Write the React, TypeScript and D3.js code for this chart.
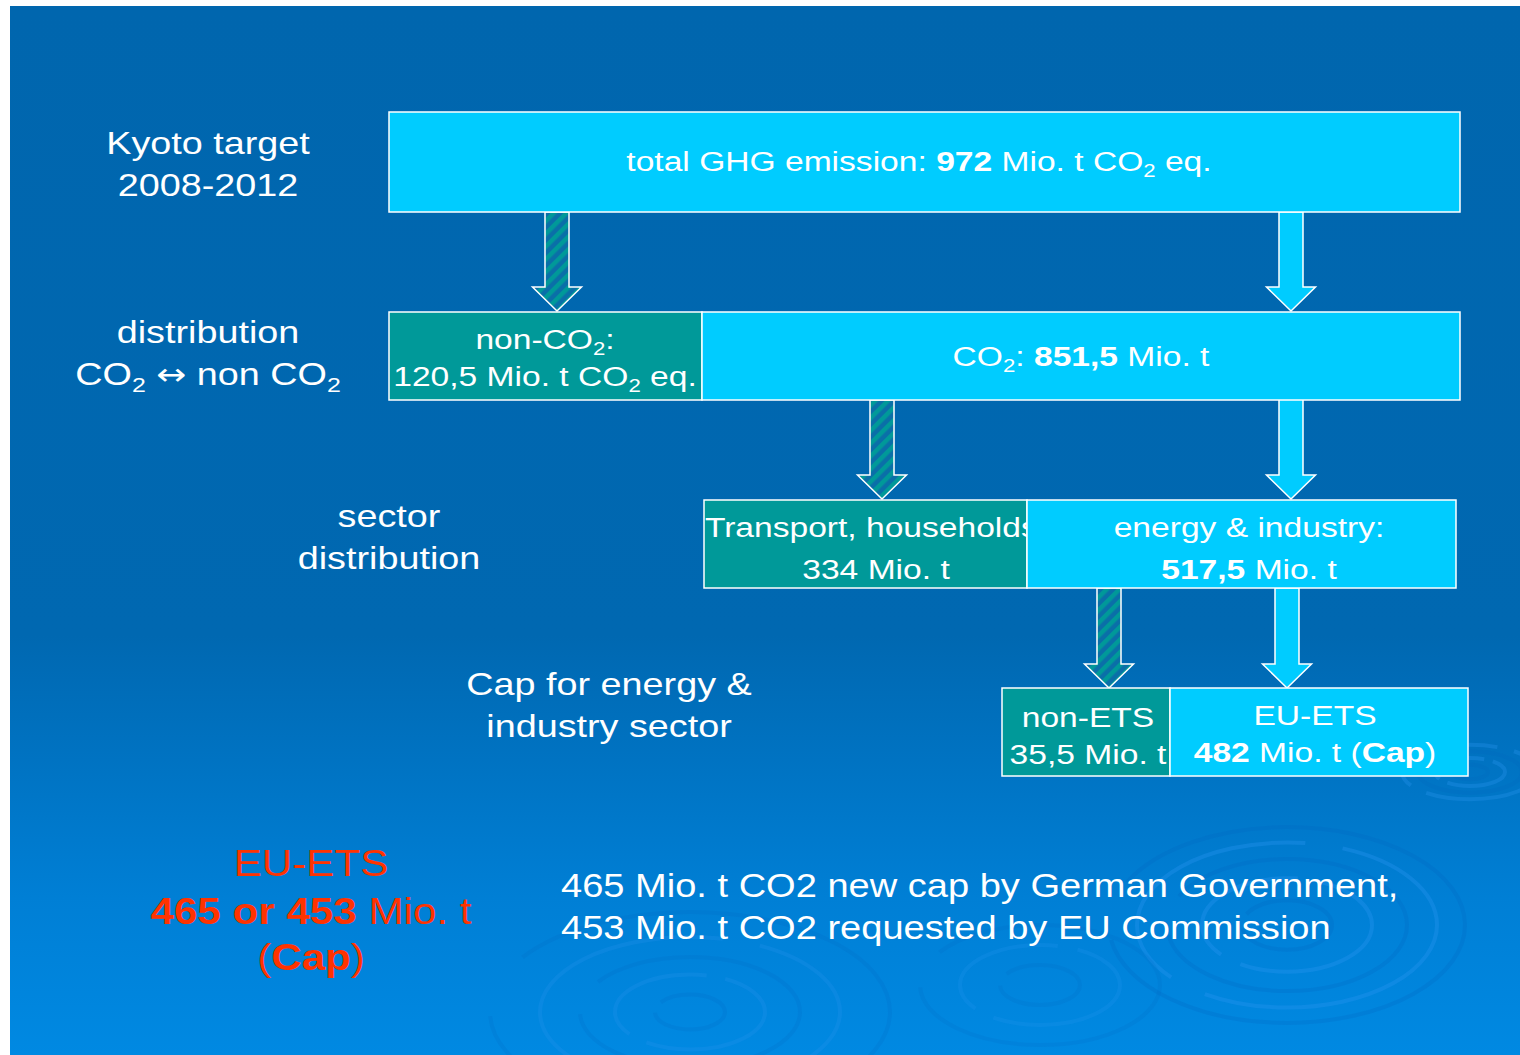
import React, { useEffect, useRef } from 'react';
import * as d3 from 'd3';

type Seg = { t: string; b?: boolean; sub?: boolean; sym?: boolean };

// values (Mio. t CO2 eq.)
const totalGhg = 972;
const splitValues = [120.5, 851.5];
const sectorValues = [334, 517.5];
const capValues = [35.5, 482];
const newCaps = [465, 453];

const tierLabels: Seg[][][] = [
	[[{ t: 'Kyoto target' }], [{ t: '2008-2012' }]],
	[[{ t: 'distribution' }], [{ t: 'CO' }, { t: '2', sub: true }, { t: ' ' }, { t: '↔', sym: true }, { t: ' non CO' }, { t: '2', sub: true }]],
	[[{ t: 'sector' }], [{ t: 'distribution' }]],
	[[{ t: 'Cap for energy &' }], [{ t: 'industry sector' }]],
];

const fmt = d3.formatLocale({ decimal: ',', thousands: '.', grouping: [3], currency: ['', ''] }).format('~f');

const WIDTH = 1520;
const HEIGHT = 1055;
const FONT = '"Liberation Sans", Arial, Helvetica, sans-serif';
const CYAN = '#00ccff';
const TEAL = '#009999';

const App: React.FC = () => {
	const svgRef = useRef<SVGSVGElement>(null);

	useEffect(() => {
		if (!svgRef.current) return;
		const svg = d3.select(svgRef.current);
		svg.selectAll('*').remove();

		const defs = svg.append('defs');
		const grad = defs.append('linearGradient').attr('id', 'bg').attr('x1', 0).attr('y1', 0).attr('x2', 0).attr('y2', 1);
		[[0, '#0066ae'], [0.6, '#0068b1'], [0.85, '#007fd5'], [1, '#0089e2']].forEach(([o, c]) =>
			grad.append('stop').attr('offset', o as number).attr('stop-color', c as string));

		const pat = defs.append('pattern').attr('id', 'hatch').attr('patternUnits', 'userSpaceOnUse')
			.attr('width', 9).attr('height', 9).attr('patternTransform', 'rotate(45)');
		pat.append('rect').attr('width', 9).attr('height', 9).attr('fill', '#0a6fa8');
		pat.append('rect').attr('width', 4.5).attr('height', 9).attr('fill', TEAL);

		// slide background
		svg.append('rect').attr('width', WIDTH).attr('height', HEIGHT).attr('fill', '#fff');
		svg.append('rect').attr('x', 10).attr('y', 6).attr('width', WIDTH - 10).attr('height', HEIGHT - 6).attr('fill', 'url(#bg)');

		// water ripples
		const ripples = [
			{ cx: 1287, cy: 925, r: [45, 85, 120, 150, 178], k: 0.55, a: 1 },
			{ cx: 690, cy: 1012, r: [35, 75, 110, 150, 200], k: 0.5, a: 0.7 },
			{ cx: 1470, cy: 772, r: [18, 35, 52, 68], k: 0.4, a: 0.9 },
			{ cx: 1040, cy: 985, r: [40, 80, 120], k: 0.5, a: 0.6 },
		];
		const rg = svg.append('g').attr('fill', 'none');
		ripples.forEach(rp => {
			rp.r.forEach((r, i) => {
				rg.append('ellipse').attr('cx', rp.cx).attr('cy', rp.cy).attr('rx', r).attr('ry', r * rp.k)
					.attr('stroke', i % 2 ? `rgba(40,150,240,${0.35 * rp.a})` : `rgba(0,100,190,${0.22 * rp.a})`)
					.attr('stroke-width', 4)
					.attr('stroke-dasharray', i % 2 ? `${r * 1.8} ${r * 0.25}` : `${r * 2.4} ${r * 0.35}`);
			});
		});

		// text written a bit wider than the font, like the original slide
		const writeLines = (g: d3.Selection<SVGGElement, unknown, null, undefined>, x: number, baselines: number[], lines: Seg[][], size: number, color: string, anchor = 'middle', stretch = 1.19) => {
			lines.forEach((line, i) => {
				const txt = g.append('text').attr('x', 0).attr('y', 0)
					.attr('transform', `translate(${x},${baselines[i]}) scale(${stretch},1)`)
					.attr('text-anchor', anchor).attr('fill', color)
					.attr('font-family', FONT).attr('font-size', size);
				line.forEach((s, j) => {
					const ts = txt.append('tspan').text(s.t);
					if (s.b) ts.attr('font-weight', 'bold');
					if (s.sym) ts.attr('font-family', '"DejaVu Sans", sans-serif').attr('font-size', size * 0.95);
					if (s.sub) ts.attr('font-size', size * 0.66).attr('dy', size * 0.22);
					else if (j > 0 && line[j - 1].sub) ts.attr('dy', -size * 0.22);
				});
			});
		};

		// arrows
		const arrows = [
			{ x: 557, y0: 212, y1: 311, hatch: true },
			{ x: 1291, y0: 212, y1: 311, hatch: false },
			{ x: 882, y0: 400, y1: 499, hatch: true },
			{ x: 1291, y0: 398, y1: 499, hatch: false },
			{ x: 1109, y0: 588, y1: 688, hatch: true },
			{ x: 1287, y0: 588, y1: 688, hatch: false },
		];
		const sw = 12, hw = 24.5, hl = 24;
		svg.append('g').selectAll('path').data(arrows).join('path')
			.attr('d', a => {
				const p = d3.path();
				p.moveTo(a.x - sw, a.y0);
				p.lineTo(a.x + sw, a.y0);
				p.lineTo(a.x + sw, a.y1 - hl);
				p.lineTo(a.x + hw, a.y1 - hl);
				p.lineTo(a.x, a.y1);
				p.lineTo(a.x - hw, a.y1 - hl);
				p.lineTo(a.x - sw, a.y1 - hl);
				p.closePath();
				return p.toString();
			})
			.attr('fill', a => (a.hatch ? 'url(#hatch)' : CYAN))
			.attr('stroke', '#fff').attr('stroke-width', 1.5).attr('stroke-linejoin', 'miter');

		// boxes: rows of [x0, x1] with text
		const boxRows = [
			{ y: 112, h: 100, cells: [
				{ x0: 389, x1: 1460, fill: CYAN, tx: 919, base: [171], lines: [[{ t: 'total GHG emission: ' }, { t: String(totalGhg), b: true }, { t: ' Mio. t CO' }, { t: '2', sub: true }, { t: ' eq.' }]] },
			] },
			{ y: 312, h: 88, cells: [
				{ x0: 389, x1: 702, fill: TEAL, tx: 545, base: [349, 386], lines: [[{ t: 'non-CO' }, { t: '2', sub: true }, { t: ':' }], [{ t: `${fmt(splitValues[0])} Mio. t CO` }, { t: '2', sub: true }, { t: ' eq.' }]] },
				{ x0: 702, x1: 1460, fill: CYAN, tx: 1081, base: [366], lines: [[{ t: 'CO' }, { t: '2', sub: true }, { t: ': ' }, { t: fmt(splitValues[1]), b: true }, { t: ' Mio. t' }]] },
			] },
			{ y: 500, h: 88, cells: [
				{ x0: 704, x1: 1027, fill: TEAL, tx: 876, base: [537, 579], lines: [[{ t: 'Transport, households:' }], [{ t: `${fmt(sectorValues[0])} Mio. t` }]] },
				{ x0: 1027, x1: 1456, fill: CYAN, tx: 1249, base: [537, 579], lines: [[{ t: 'energy & industry:' }], [{ t: fmt(sectorValues[1]), b: true }, { t: ' Mio. t' }]] },
			] },
			{ y: 688, h: 88, cells: [
				{ x0: 1002, x1: 1170, fill: TEAL, tx: 1088, base: [727, 764], lines: [[{ t: 'non-ETS' }], [{ t: `${fmt(capValues[0])} Mio. t` }]] },
				{ x0: 1170, x1: 1468, fill: CYAN, tx: 1315, base: [725, 762], lines: [[{ t: 'EU-ETS' }], [{ t: fmt(capValues[1]), b: true }, { t: ' Mio. t (' }, { t: 'Cap', b: true }, { t: ')' }]] },
			] },
		];
		boxRows.forEach(row => {
			row.cells.forEach(c => {
				const g = svg.append('g');
				g.append('rect').attr('x', c.x0).attr('y', row.y).attr('width', c.x1 - c.x0).attr('height', row.h)
					.attr('fill', c.fill).attr('stroke', '#fff').attr('stroke-width', 1.5);
				writeLines(g, c.tx, c.base, c.lines as Seg[][], 28, '#fff', 'middle', 1.2);
			});
		});

		// tier labels on the left
		const tierPos = [
			{ x: 208, base: [154, 196] },
			{ x: 208, base: [343, 385] },
			{ x: 389, base: [527, 569] },
			{ x: 609, base: [695, 737] },
		];
		tierLabels.forEach((lines, i) => {
			writeLines(svg.append('g'), tierPos[i].x, tierPos[i].base, lines, 32, '#fff', 'middle', 1.18);
		});

		// new cap, red
		writeLines(svg.append('g'), 311, [876, 924, 970], [
			[{ t: 'EU-ETS' }],
			[{ t: `${newCaps[0]} or ${newCaps[1]}`, b: true }, { t: ' Mio. t' }],
			[{ t: '(' }, { t: 'Cap', b: true }, { t: ')' }],
		], 37, '#ff3300', 'middle', 1.14);

		writeLines(svg.append('g'), 561, [897, 939], [
			[{ t: `${newCaps[0]} Mio. t CO2 new cap by German Government,` }],
			[{ t: `${newCaps[1]} Mio. t CO2 requested by EU Commission` }],
		], 33, '#fff', 'start', 1.153);
	}, []);

	return <svg ref={svgRef} width={WIDTH} height={HEIGHT} style={{ position: 'absolute', left: 0, top: 0 }} />;
};

export default App;
